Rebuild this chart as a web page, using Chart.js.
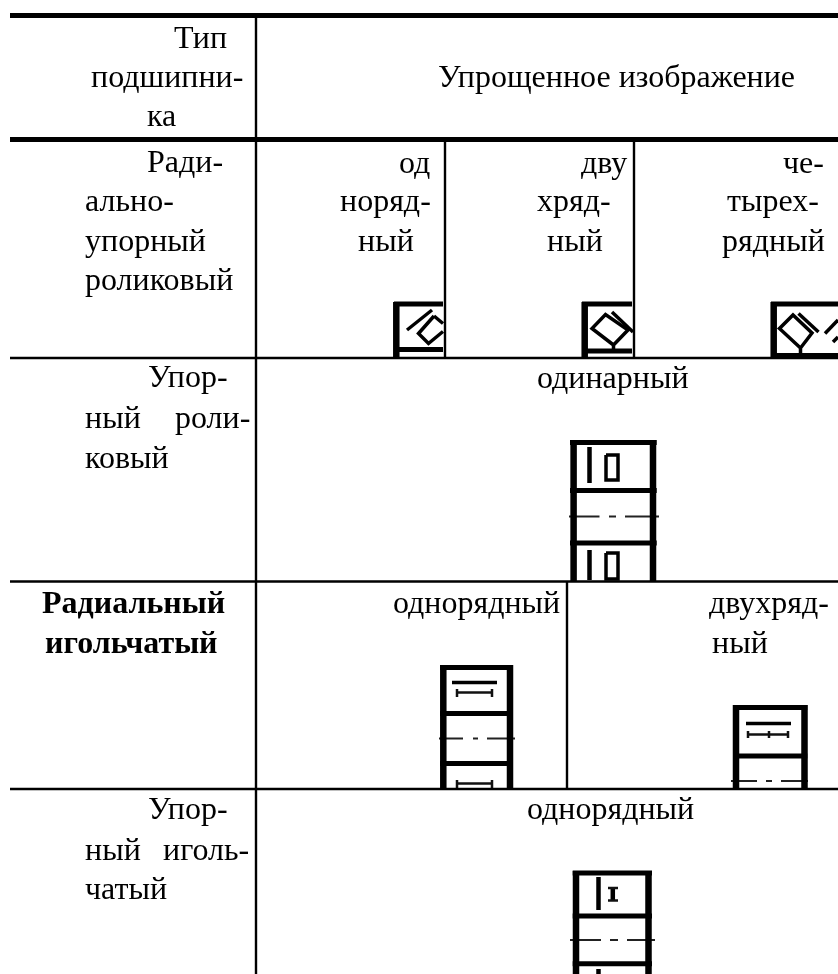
<!DOCTYPE html>
<html lang="ru">
<head>
<meta charset="utf-8">
<title>Упрощенное изображение подшипников</title>
<style>
    html, body { margin: 0; padding: 0; background: #fff; }
    #chart { display: block; }
</style>
<script src="https://cdn.jsdelivr.net/npm/chart.js@4/dist/chart.umd.min.js"></script>
</head>
<body>
<canvas id="chart" width="838" height="974"></canvas>
<script>
// ============================================
// TABLE TEXT
// ============================================
const labels = [
    'Тип', 'подшипни-', 'ка', 'Упрощенное изображение',
    'Ради-', 'ально-', 'упорный', 'роликовый',
    'од', 'норяд-', 'ный', 'дву', 'хряд-', 'ный', 'че-', 'тырех-', 'рядный',
    'Упор-', 'ный', 'роли-', 'ковый', 'одинарный',
    'однорядный', 'двухряд-', 'ный',
    'Упор-', 'ный', 'иголь-', 'чатый', 'однорядный'
];
const labelX = [
    174, 91, 147, 438,
    147, 85, 85, 85,
    399, 340, 358, 581, 537, 547, 783, 727, 722,
    148, 85, 175, 85, 537,
    393, 709, 712,
    148, 85, 163, 85, 527
];
const labelY = [
    48, 87, 126, 87,
    172, 211, 251, 290,
    173, 211, 251, 173, 211, 251, 173, 211, 251,
    387, 428, 428, 468, 388,
    613, 613, 653,
    819, 860, 860, 899, 819
];
const boldLabels = ['Радиальный', 'игольчатый'];
const boldX = [42, 45];
const boldY = [613, 653];

// ============================================
// TABLE RULES AND BEARING SYMBOLS
// ============================================
const heavyRules = [
    [[10, 15.5], [838, 15.5]],
    [[10, 139.5], [838, 139.5]]
];
const thinRules = [
    [[10, 358], [838, 358]],
    [[10, 581.5], [838, 581.5]],
    [[10, 789], [838, 789]],
    [[256, 18], [256, 974]],
    [[445, 142], [445, 358]],
    [[634, 142], [634, 358]],
    [[567, 581], [567, 789]]
];
const frameSides = [
    // радиально-упорные
    [[396.3, 302], [396.3, 358]],
    [[584.7, 302], [584.7, 358]],
    [[773.7, 302], [773.7, 358]],
    // упорный роликовый
    [[573.6, 440], [573.6, 581]],
    [[653, 440], [653, 581]],
    // радиальные игольчатые
    [[443.3, 665], [443.3, 788]],
    [[510, 665], [510, 788]],
    [[736, 705], [736, 788]],
    [[804.5, 705], [804.5, 788]],
    // упорный игольчатый
    [[576, 871], [576, 974]],
    [[648.5, 871], [648.5, 974]]
];
const frameBars = [
    [[394, 304], [443, 304]],
    [[394, 349.5], [443, 349.5]],
    [[582, 304], [632, 304]],
    [[582, 351], [632, 351]],
    [[771, 304], [838, 304]],
    [[771, 355.5], [838, 355.5]],
    [[570, 442.5], [656.7, 442.5]],
    [[570, 490.5], [656.7, 490.5]],
    [[570, 543], [656.7, 543]],
    [[440, 667.5], [513, 667.5]],
    [[440, 713.5], [513, 713.5]],
    [[440, 763.5], [513, 763.5]],
    [[733.3, 707.5], [807.3, 707.5]],
    [[733.3, 756], [807.3, 756]],
    [[572.7, 873], [652, 873]],
    [[572.7, 916], [652, 916]],
    [[572.7, 963.7], [652, 963.7]]
];
const rollers = [
    // однорядный
    [[407, 330], [432, 310]],
    [[434, 316], [418.5, 333.5], [428.5, 343.5], [443, 331.5]],
    [[434, 316], [443, 323.5]],
    // двухрядный
    [[613.5, 345], [592, 328.5], [605.5, 314.5], [628, 330], [613.5, 345], [613.5, 350]],
    [[612, 312], [633, 332]],
    // четырехрядный
    [[800.5, 348], [779.5, 328.5], [793, 315], [812, 333], [800.5, 348], [800.5, 353]],
    [[798.5, 313.5], [818.5, 332]],
    [[825, 333.5], [838, 320]],
    [[833, 342], [838, 337]],
    // упорный роликовый
    [[606, 455], [618, 455], [618, 480], [606, 480], [606, 455]],
    [[606, 553], [618, 553], [618, 579], [606, 579], [606, 553]],
    // игольчатые
    [[452, 682.5], [497, 682.5]],
    [[746, 723.5], [791, 723.5]]
];
const needles = [
    [[457, 692.5], [492, 692.5]],
    [[457, 689], [457, 697]],
    [[492, 689], [492, 697]],
    [[457, 783.5], [492, 783.5]],
    [[457, 780], [457, 788]],
    [[492, 780], [492, 788]],
    [[748, 734.5], [788, 734.5]],
    [[748, 731], [748, 738]],
    [[769, 731], [769, 738]],
    [[788, 731], [788, 738]],
    [[608, 888], [618, 888]],
    [[608, 900.5], [618, 900.5]]
];
const stems = [
    [[589.5, 447], [589.5, 483]],
    [[589.5, 550], [589.5, 580]],
    [[598.5, 877], [598.5, 910]],
    [[598.5, 969], [598.5, 974]],
    [[612.8, 888], [612.8, 900]]
];
const centreLines = [
    [[569, 516.5], [599.5, 516.5]], [[609, 516.5], [616, 516.5]], [[625, 516.5], [659, 516.5]],
    [[439, 738.5], [463, 738.5]], [[473, 738.5], [478, 738.5]], [[487, 738.5], [515, 738.5]],
    [[731, 781], [757, 781]], [[766, 781], [772, 781]], [[781, 781], [808, 781]],
    [[570, 940], [601, 940]], [[610, 940], [618, 940]], [[627, 940], [655, 940]]
];

function toDatasets(lines, width, color) {
    return lines.map(line => ({
        data: line.map(p => ({ x: p[0], y: p[1] })),
        borderColor: color,
        borderWidth: width,
        borderCapStyle: 'butt',
        borderJoinStyle: 'miter',
        pointRadius: 0,
        showLine: true,
        fill: false,
        tension: 0
    }));
}

// text goes through the same scales as the lines
const tableText = {
    id: 'tableText',
    afterDatasetsDraw(chart) {
        const { ctx, scales } = chart;
        ctx.save();
        ctx.fillStyle = '#000';
        ctx.textBaseline = 'alphabetic';
        ctx.textAlign = 'left';
        ctx.font = '32px "Liberation Serif"';
        labels.forEach((text, i) => {
            ctx.fillText(text, scales.x.getPixelForValue(labelX[i]), scales.y.getPixelForValue(labelY[i]));
        });
        ctx.font = 'bold 32px "Liberation Serif"';
        boldLabels.forEach((text, i) => {
            ctx.fillText(text, scales.x.getPixelForValue(boldX[i]), scales.y.getPixelForValue(boldY[i]));
        });
        ctx.restore();
    }
};

new Chart(document.getElementById('chart'), {
    type: 'scatter',
    data: {
        datasets: [
            ...toDatasets(heavyRules, 5, '#000'),
            ...toDatasets(thinRules, 2.4, '#000'),
            ...toDatasets(frameSides, 6.5, '#000'),
            ...toDatasets(frameBars, 5, '#000'),
            ...toDatasets(rollers, 3.5, '#000'),
            ...toDatasets(needles, 2.5, '#111'),
            ...toDatasets(stems, 4.5, '#000'),
            ...toDatasets(centreLines, 2, '#222')
        ]
    },
    options: {
        responsive: false,
        animation: false,
        clip: false,
        layout: { padding: 0 },
        plugins: { legend: { display: false }, tooltip: { enabled: false } },
        scales: {
            x: { type: 'linear', min: 0, max: 838, display: false },
            y: { type: 'linear', min: 0, max: 974, reverse: true, display: false }
        }
    },
    plugins: [tableText]
});
</script>
</body>
</html>
